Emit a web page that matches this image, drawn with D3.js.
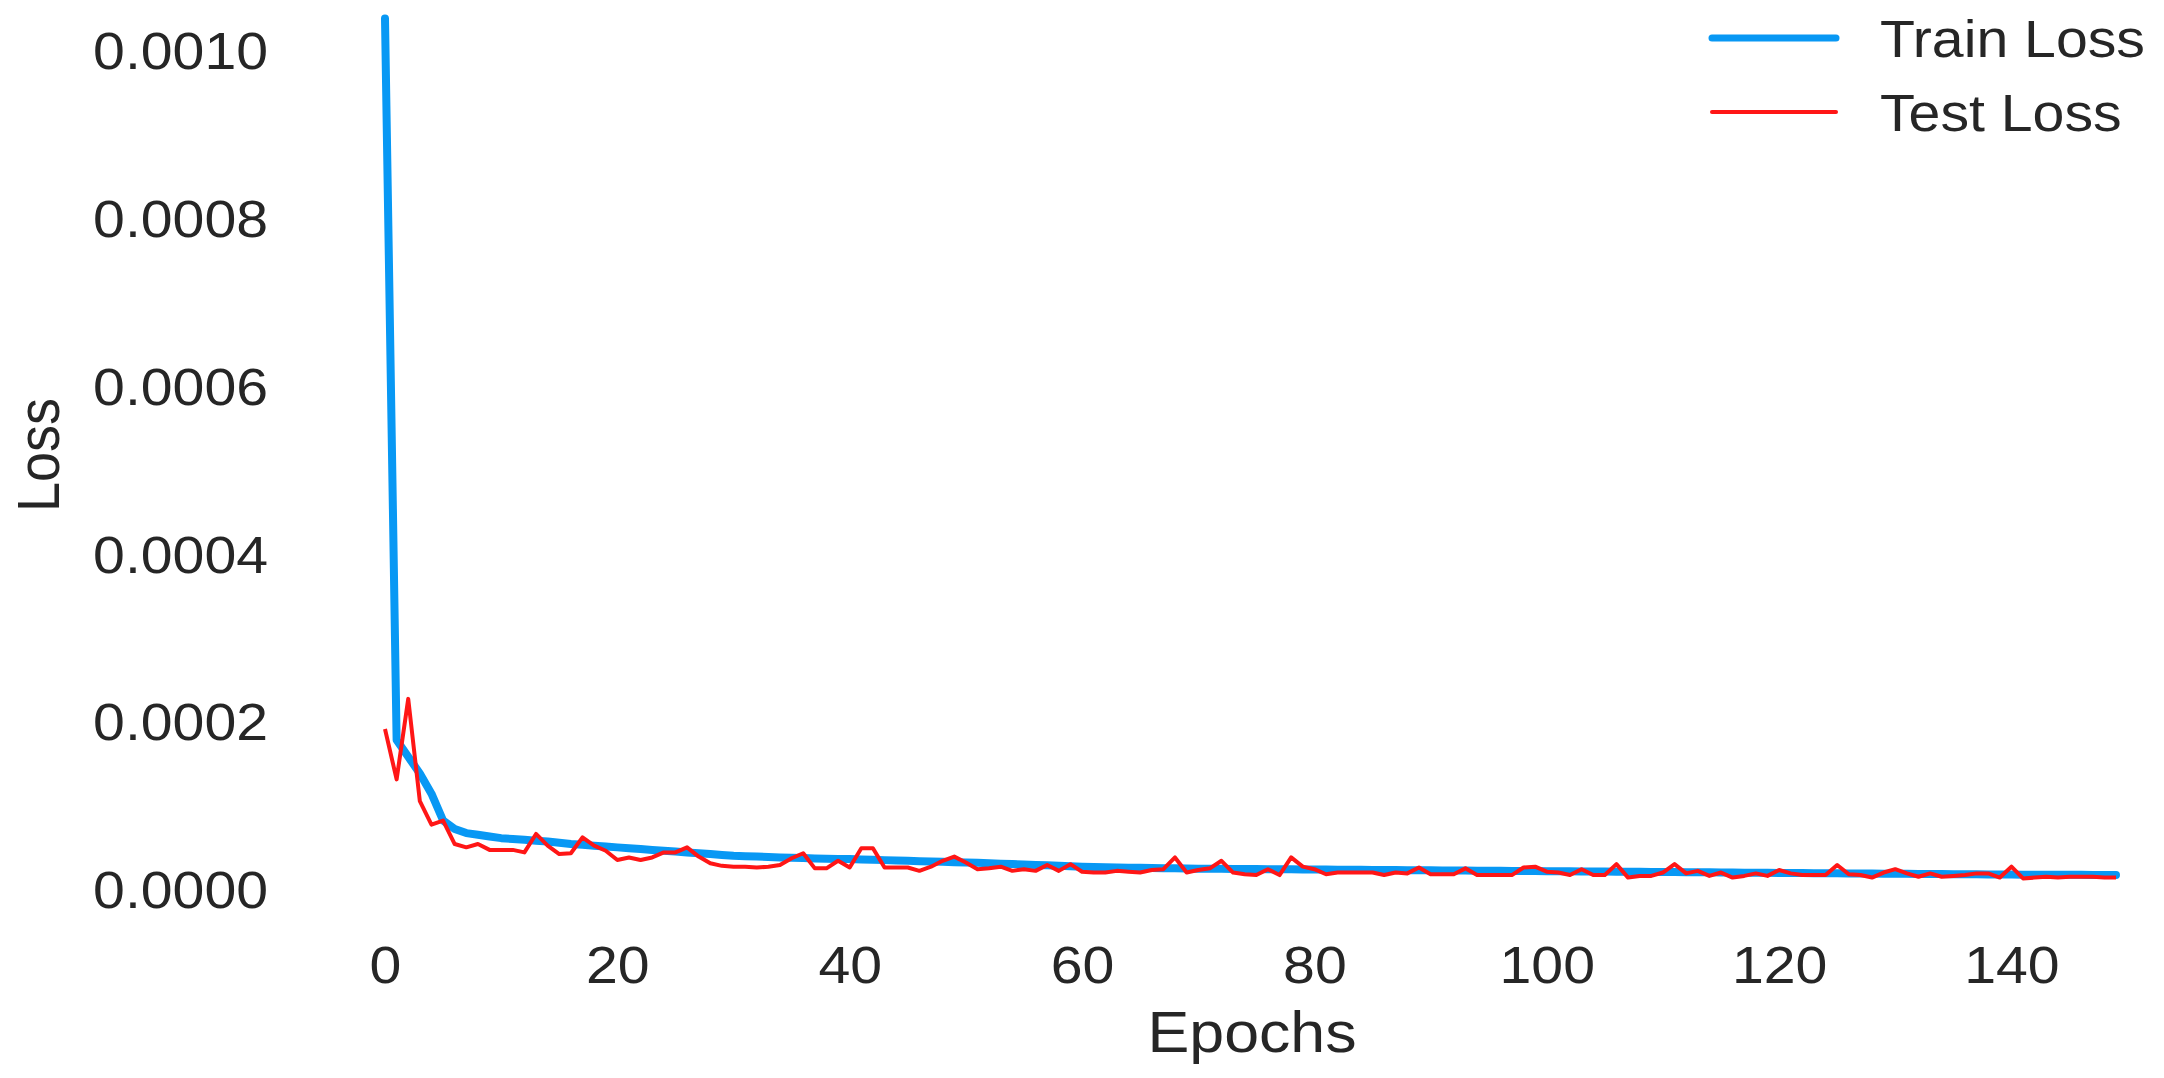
<!DOCTYPE html>
<html>
<head>
<meta charset="utf-8">
<script src="https://cdn.jsdelivr.net/npm/d3@7/dist/d3.min.js"></script>
<style>
  html, body { margin: 0; padding: 0; background: #fff; }
  svg { display: block; }
</style>
</head>
<body>
<svg id="chart"></svg>
<script>
// Loss per epoch (epoch = array index)
const trainLoss = [
  104e-5, 18e-5, 16e-5, 14e-5, 11.6e-5, 8.4e-5, 7.4e-5, 6.9e-5, 6.7e-5, 6.5e-5,
  6.3e-5, 6.2e-5, 6.1e-5, 6.0e-5, 5.9e-5, 5.75e-5, 5.6e-5, 5.5e-5, 5.4e-5, 5.3e-5,
  5.2e-5, 5.1e-5, 5.0e-5, 4.9e-5, 4.8e-5, 4.7e-5, 4.6e-5, 4.5e-5, 4.4e-5, 4.3e-5,
  4.2e-5, 4.15e-5, 4.1e-5, 4.05e-5, 4.0e-5, 3.96e-5, 3.92e-5, 3.88e-5, 3.85e-5, 3.82e-5,
  3.8e-5, 3.76e-5, 3.72e-5, 3.68e-5, 3.64e-5, 3.6e-5, 3.56e-5, 3.52e-5, 3.48e-5, 3.44e-5,
  3.4e-5, 3.36e-5, 3.31e-5, 3.26e-5, 3.21e-5, 3.16e-5, 3.11e-5, 3.06e-5, 3.0e-5, 2.95e-5,
  2.9e-5, 2.86e-5, 2.83e-5, 2.8e-5, 2.78e-5, 2.76e-5, 2.74e-5, 2.72e-5, 2.7e-5, 2.68e-5,
  2.66e-5, 2.65e-5, 2.64e-5, 2.63e-5, 2.62e-5, 2.61e-5, 2.6e-5, 2.59e-5, 2.58e-5, 2.57e-5,
  2.56e-5, 2.55e-5, 2.54e-5, 2.53e-5, 2.52e-5, 2.51e-5, 2.5e-5, 2.49e-5, 2.48e-5, 2.47e-5,
  2.46e-5, 2.45e-5, 2.44e-5, 2.43e-5, 2.42e-5, 2.41e-5, 2.4e-5, 2.39e-5, 2.38e-5, 2.37e-5,
  2.36e-5, 2.35e-5, 2.34e-5, 2.33e-5, 2.32e-5, 2.31e-5, 2.3e-5, 2.29e-5, 2.28e-5, 2.27e-5,
  2.26e-5, 2.25e-5, 2.24e-5, 2.23e-5, 2.22e-5, 2.21e-5, 2.2e-5, 2.19e-5, 2.18e-5, 2.17e-5,
  2.16e-5, 2.15e-5, 2.14e-5, 2.13e-5, 2.12e-5, 2.11e-5, 2.1e-5, 2.09e-5, 2.08e-5, 2.07e-5,
  2.06e-5, 2.05e-5, 2.04e-5, 2.03e-5, 2.02e-5, 2.01e-5, 2.0e-5, 1.99e-5, 1.98e-5, 1.97e-5,
  1.96e-5, 1.95e-5, 1.95e-5, 1.94e-5, 1.94e-5, 1.93e-5, 1.93e-5, 1.92e-5, 1.92e-5, 1.91e-5
];

const testLoss = [
  19.3e-5, 13.3e-5, 22.9e-5, 10.7e-5, 7.9e-5, 8.4e-5, 5.6e-5, 5.2e-5, 5.6e-5, 4.9e-5,
  4.9e-5, 4.9e-5, 4.6e-5, 6.8e-5, 5.4e-5, 4.4e-5, 4.5e-5, 6.4e-5, 5.4e-5, 4.8e-5,
  3.7e-5, 4.0e-5, 3.7e-5, 4.0e-5, 4.6e-5, 4.6e-5, 5.2e-5, 4.1e-5, 3.3e-5, 3.0e-5,
  2.9e-5, 2.9e-5, 2.8e-5, 2.9e-5, 3.1e-5, 3.9e-5, 4.5e-5, 2.7e-5, 2.7e-5, 3.6e-5,
  2.8e-5, 5.1e-5, 5.1e-5, 2.8e-5, 2.8e-5, 2.8e-5, 2.4e-5, 2.9e-5, 3.6e-5, 4.1e-5,
  3.4e-5, 2.6e-5, 2.7e-5, 2.9e-5, 2.4e-5, 2.6e-5, 2.4e-5, 3.1e-5, 2.4e-5, 3.2e-5,
  2.3e-5, 2.2e-5, 2.2e-5, 2.4e-5, 2.3e-5, 2.2e-5, 2.5e-5, 2.6e-5, 4.0e-5, 2.2e-5,
  2.5e-5, 2.7e-5, 3.6e-5, 2.2e-5, 2.0e-5, 1.9e-5, 2.6e-5, 1.9e-5, 4.0e-5, 2.9e-5,
  2.6e-5, 2.0e-5, 2.2e-5, 2.2e-5, 2.2e-5, 2.2e-5, 1.9e-5, 2.2e-5, 2.1e-5, 2.8e-5,
  2.0e-5, 2.0e-5, 2.0e-5, 2.7e-5, 1.9e-5, 1.9e-5, 1.9e-5, 1.9e-5, 2.8e-5, 2.9e-5,
  2.3e-5, 2.2e-5, 1.9e-5, 2.6e-5, 1.9e-5, 1.9e-5, 3.2e-5, 1.6e-5, 1.8e-5, 1.8e-5,
  2.2e-5, 3.2e-5, 2.1e-5, 2.4e-5, 1.8e-5, 2.2e-5, 1.6e-5, 1.8e-5, 2.1e-5, 1.8e-5,
  2.5e-5, 2.1e-5, 1.9e-5, 1.9e-5, 1.9e-5, 3.1e-5, 2.0e-5, 1.9e-5, 1.6e-5, 2.2e-5,
  2.6e-5, 2.1e-5, 1.7e-5, 2.1e-5, 1.7e-5, 1.8e-5, 1.9e-5, 2.1e-5, 2.1e-5, 1.6e-5,
  2.9e-5, 1.5e-5, 1.6e-5, 1.7e-5, 1.6e-5, 1.7e-5, 1.7e-5, 1.7e-5, 1.6e-5, 1.6e-5
];

const xTicks = [0, 20, 40, 60, 80, 100, 120, 140];
const yTicks = [0, 0.0002, 0.0004, 0.0006, 0.0008, 0.0010];
const seriesNames = ['Train Loss', 'Test Loss'];

const width = 2164;
const height = 1078;
const fontFamily = '"Liberation Sans", Arial, sans-serif';
const textColor = '#262626';
const trainColor = '#0898f4';
const testColor = '#ff1616';
// the original figure was stretched sideways a little, so its glyphs are wide
const stretch = 1.1;

const svg = d3.select('#chart')
  .attr('width', width)
  .attr('height', height)
  .style('font-family', fontFamily);

// Scales
const xScale = d3.scaleLinear()
  .domain([0, trainLoss.length - 1])
  .range([385, 2116]);

const yScale = d3.scaleLinear()
  .domain([0, 0.001])
  .range([891, 52]);

// X axis - no spine, no tick marks
const xAxis = svg.append('g')
  .attr('transform', `translate(0, ${yScale(0)})`)
  .call(d3.axisBottom(xScale)
    .tickValues(xTicks)
    .tickSize(0)
    .tickPadding(55)
    .tickFormat(d3.format('d')));
xAxis.select('.domain').remove();
xAxis.selectAll('text')
  .attr('transform', `scale(${stretch}, 1)`)
  .style('font-size', '52px')
  .style('fill', textColor)
  .style('font-family', fontFamily);

// Y axis
const yAxis = svg.append('g')
  .attr('transform', `translate(${xScale(0)}, 0)`)
  .call(d3.axisLeft(yScale)
    .tickValues(yTicks)
    .tickSize(0)
    .tickPadding(117 / stretch)
    .tickFormat(d3.format('.4f')));
yAxis.select('.domain').remove();
yAxis.selectAll('text')
  .attr('transform', `scale(${stretch}, 1)`)
  .style('font-size', '52px')
  .style('fill', textColor)
  .style('font-family', fontFamily);

// Axis labels
svg.append('text')
  .attr('transform', `translate(1252, 1052) scale(${stretch}, 1)`)
  .attr('text-anchor', 'middle')
  .style('font-size', '57px')
  .style('fill', textColor)
  .text('Epochs');

svg.append('text')
  .attr('transform', `translate(59, 455) rotate(-90) scale(1, ${stretch})`)
  .attr('text-anchor', 'middle')
  .style('font-size', '54px')
  .style('fill', textColor)
  .text('Loss');

// Lines
const line = d3.line()
  .x((d, i) => xScale(i))
  .y(d => yScale(d));

svg.append('path')
  .datum(trainLoss)
  .attr('fill', 'none')
  .attr('stroke', trainColor)
  .attr('stroke-width', 8)
  .attr('stroke-linejoin', 'round')
  .attr('stroke-linecap', 'round')
  .attr('d', line);

svg.append('path')
  .datum(testLoss)
  .attr('fill', 'none')
  .attr('stroke', testColor)
  .attr('stroke-width', 4)
  .attr('stroke-linejoin', 'round')
  .attr('d', line);

// Legend, top right
const legend = svg.append('g')
  .attr('transform', 'translate(1712, 38)');

const legendItems = legend.selectAll('.legend-item')
  .data(seriesNames)
  .enter()
  .append('g')
  .attr('class', 'legend-item')
  .attr('transform', (d, i) => `translate(0, ${i * 74})`);

legendItems.append('line')
  .attr('x1', 0)
  .attr('x2', 124)
  .attr('y1', 0)
  .attr('y2', 0)
  .attr('stroke', (d, i) => i === 0 ? trainColor : testColor)
  .attr('stroke-width', (d, i) => i === 0 ? 7 : 4)
  .attr('stroke-linecap', 'round');

legendItems.append('text')
  .attr('transform', `translate(168, 19) scale(${stretch}, 1)`)
  .style('font-size', '52px')
  .style('fill', textColor)
  .text(d => d);
</script>
</body>
</html>
